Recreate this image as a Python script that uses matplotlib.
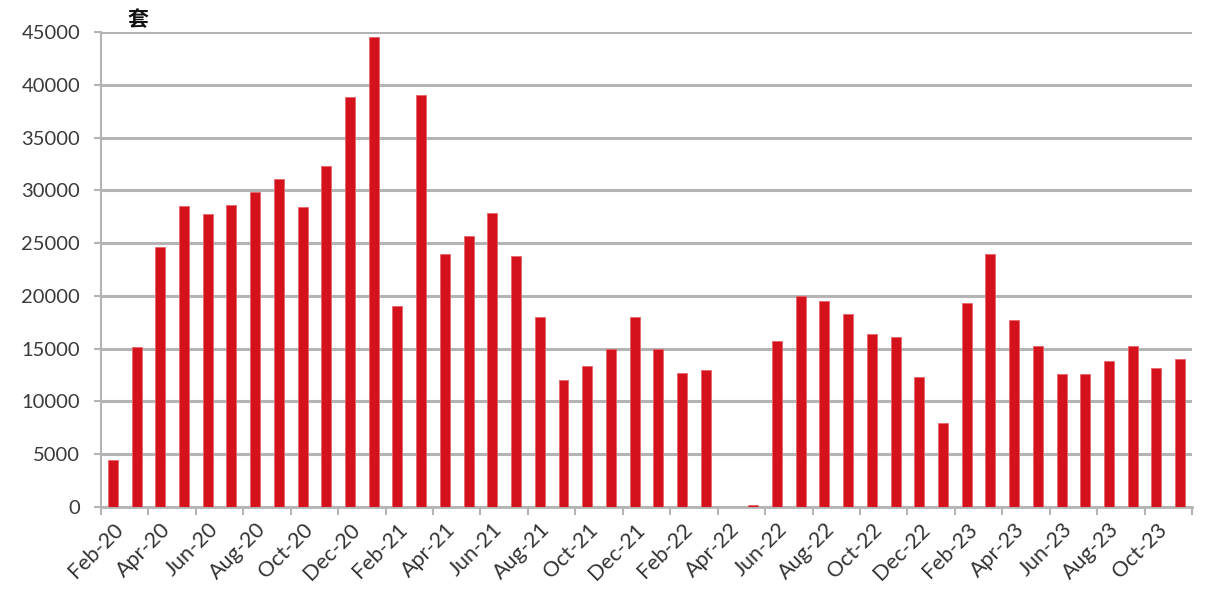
import numpy as np
import matplotlib.pyplot as plt

plt.rcParams['font.family'] = ['Lato', 'Noto Sans CJK SC', 'DejaVu Sans']

# === 数据
months = ["Feb-20", "Mar-20", "Apr-20", "May-20", "Jun-20", "Jul-20", "Aug-20", "Sep-20", "Oct-20", "Nov-20",
          "Dec-20", "Jan-21", "Feb-21", "Mar-21", "Apr-21", "May-21", "Jun-21", "Jul-21", "Aug-21", "Sep-21",
          "Oct-21", "Nov-21", "Dec-21", "Jan-22", "Feb-22", "Mar-22", "Apr-22", "May-22", "Jun-22", "Jul-22",
          "Aug-22", "Sep-22", "Oct-22", "Nov-22", "Dec-22", "Jan-23", "Feb-23", "Mar-23", "Apr-23", "May-23",
          "Jun-23", "Jul-23", "Aug-23", "Sep-23", "Oct-23", "Nov-23"]
values = [4500, 15200, 24600, 28500, 27800, 28600, 29800, 31100, 28400, 32300,
          38800, 44500, 19000, 39000, 24000, 25700, 27900, 23800, 18000, 12000,
          13400, 15000, 18000, 15000, 12700, 13000, 0, 150, 15700, 20000,
          19500, 18300, 16400, 16100, 12300, 8000, 19300, 24000, 17700, 15300,
          12600, 12600, 13800, 15300, 13200, 14000]
y_ticks = [0, 5000, 10000, 15000, 20000, 25000, 30000, 35000, 40000, 45000]

x = np.arange(len(months))

fig = plt.figure(figsize=(12.31, 6), dpi=100)
ax = fig.add_axes([101 / 1231, 93 / 600, (1192 - 101) / 1231, (507 - 32) / 600])

ax.bar(x, values, width=0.42, color="#D4121C", edgecolor="#E8646A", linewidth=0.6, zorder=3)

ax.set_xlim(-0.5, len(months) - 0.5)
ax.set_ylim(0, 45000)
ax.set_yticks(y_ticks)
ax.set_yticklabels([str(v) for v in y_ticks])
ax.yaxis.grid(True, color="#B4B4B4", linewidth=2.2, zorder=0)

# 刻度线在类别之间，标签在类别中心
ax.set_xticks(np.arange(-0.5, len(months), 2))
ax.set_xticklabels([])
ax.set_xticks(x[::2], minor=True)
ax.set_xticklabels(months[::2], minor=True, rotation=45, ha="right", rotation_mode="anchor",
                   fontsize=15.5, color="#333333")
ax.tick_params(axis="x", which="minor", length=0, pad=9)
ax.tick_params(axis="x", which="major", length=6, color="#B4B4B4", width=1.5)
ax.tick_params(axis="y", length=5, color="#B4B4B4", width=1.5, labelsize=14.5, labelcolor="#3A3A3A", pad=10)

for side in ["top", "right"]:
    ax.spines[side].set_visible(False)
ax.spines["left"].set_color("#B4B4B4")
ax.spines["left"].set_linewidth(1.5)
ax.spines["bottom"].set_color("#B4B4B4")
ax.spines["bottom"].set_linewidth(2)

ax.text(0.034, 1.005, "套", transform=ax.transAxes, fontsize=15, color="#111111", fontweight="bold",
        family=["Noto Sans CJK SC", "DejaVu Sans"], va="bottom", ha="center")

fig.savefig("out.png", dpi=100)
